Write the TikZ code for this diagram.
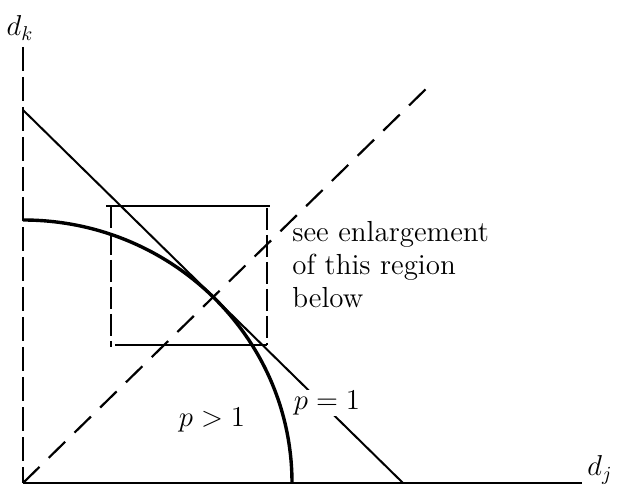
\documentclass[tikz,border=0pt]{standalone}
\usetikzlibrary{calc}
\newcommand{\lbl}{\fontsize{14.5}{16.5}\selectfont}

\begin{document}
\begin{tikzpicture}[x=0.5pt,y=0.5pt,font=\lbl,
  thinline/.style={line width=1pt},
  axisdash/.style={line width=1pt,dash pattern=on 12pt off 3pt},
  boxdash/.style={line width=1pt,dash pattern=on 11pt off 2.5pt},
  diagdash/.style={line width=1.1pt,dash pattern=on 11.5pt off 6.5pt},
  curveline/.style={line width=1.7pt}]
\useasboundingbox (-23,-5) rectangle (594,483);
\coordinate (O) at (0,0);
\coordinate (ktop) at (0,436);
\coordinate (jend) at (559,0);
\coordinate (kcut) at (0,373);
\coordinate (jcut) at (380,0);
\coordinate (diagend) at (407,398);
% axes
\draw[thinline] (O) -- (jend);
\draw[axisdash] (ktop) -- (O);
% line p=1, label sits in a gap
\draw[thinline] (kcut) -- (jcut);
\node[fill=white,inner sep=0.6pt] (peq) at (304,80) {$p=1$};
% diagonal
\draw[diagdash] (O) -- (diagend);
% circle p>1
\draw[curveline] (269,0) arc[start angle=0,end angle=90,x radius=269,y radius=263];
\node[inner sep=0] (pgt) at (189,63) {$p>1$};
% region box
\coordinate (boxtl) at (88,277);
\coordinate (boxtr) at (244,277);
\coordinate (boxbl) at (88,138);
\coordinate (boxbr) at (244,138);
\draw[thinline] ($(boxtl)+(-5,0)$) -- ($(boxtr)+(3,0)$);
\draw[thinline] ($(boxbl)+(4,0)$) -- (boxbr);
\draw[boxdash] (boxtl) -- ($(boxbl)+(0,-2)$);
\draw[boxdash] ($(boxtr)+(0,-2)$) -- (boxbr);
\node[anchor=north west,inner sep=0,align=left] (note) at (269,262) {see enlargement\\of this region\\below};
% axis labels
\node[inner sep=0] (dk) at (-3,455) {$d_k$};
\node[inner sep=0] (dj) at (577,13) {$d_j$};
\end{tikzpicture}
\end{document}
